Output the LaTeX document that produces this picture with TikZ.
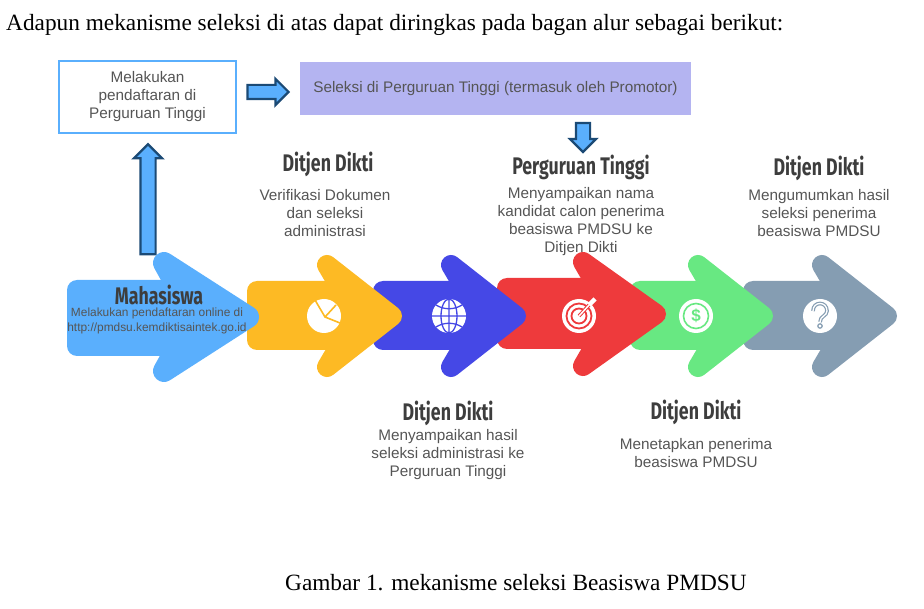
\documentclass[tikz,border=0pt]{standalone}
\usepackage{fontspec}
\setmainfont{Liberation Sans}
\newfontfamily\capfont{Liberation Serif}
\newfontfamily\headfont[FakeStretch=0.74]{Fira Sans}
\usetikzlibrary{shapes.arrows}
\definecolor{txtgray}{HTML}{555555}
\definecolor{headgray}{HTML}{3D3D3D}
\definecolor{skyblue}{HTML}{5AAFFD}
\definecolor{linkblue}{HTML}{1B4A75}
\definecolor{amber}{HTML}{FDBA24}
\definecolor{indigo}{HTML}{4548E6}
\definecolor{redflow}{HTML}{EE3A3C}
\definecolor{greenflow}{HTML}{68E882}
\definecolor{slategray}{HTML}{859DB2}
\definecolor{lilac}{HTML}{B4B4F1}
\tikzset{
  caption/.style={font=\capfont\fontsize{23.3}{26}\selectfont,text=black,inner sep=0pt,anchor=base west},
  head/.style={font=\headfont\bfseries\fontsize{24}{26}\selectfont,text=headgray,inner sep=0pt},
  desc/.style={font=\fontsize{15.3}{18}\selectfont,text=txtgray,align=center,inner sep=0pt},
  blockarrow/.style={single arrow,draw=linkblue,fill=skyblue,line width=2.2pt,inner xsep=0pt,inner ysep=#1,
    single arrow head extend=#1,single arrow head indent=0pt},
  icon/.style={fill=white,draw=none},
}
% colour, left, top, bottom, blob x, blob y, tip x, middle y, radius
\newcommand{\flowarrow}[9]{
  \fill[#1,rounded corners=10pt] (#2,#3) rectangle (#5+30,#4);
  \filldraw[#1,line width=2*#9 pt,line join=round] (#5,#6) -- (#7-#9,#8) -- (#5,2*#8-#6) -- (#5+30,#8) -- cycle;
}
\begin{document}
\begin{tikzpicture}[x=1pt,y=-1pt]
  \useasboundingbox (0,0) rectangle (924,609);
  \node[caption] (intro) at (6,31) {Adapun mekanisme seleksi di atas dapat diringkas pada bagan alur sebagai berikut:};
  \node[caption] (fig) at (285,590) {Gambar 1. mekanisme seleksi Beasiswa PMDSU};

  % boxes on top
  \node[draw=skyblue,fill=white,line width=2.5pt,minimum width=177pt,minimum height=72pt,inner sep=0pt,desc] (daftar) at (147.5,97) {Melakukan\\pendaftaran di\\Perguruan Tinggi};
  \node[fill=lilac,minimum width=391pt,minimum height=53pt,inner sep=0pt,desc] (seleksi) at (495.5,88.5) {Seleksi di Perguruan Tinggi (termasuk oleh Promotor)};
  \node[blockarrow=6.5pt,rotate=90,minimum height=110pt] (up) at (148,203) {};
  \node[blockarrow=6pt,minimum height=41pt] (right) at (264.5,92) {};
  \node[blockarrow=6pt,rotate=-90,minimum height=29pt] (down) at (583,134) {};

  % texts over the flow
  \node[head] (h1) at (328,164) {Ditjen Dikti};
  \node[desc] (t1) at (325,213) {Verifikasi Dokumen\\dan seleksi\\administrasi};
  \node[head] (h3) at (581,167) {Perguruan Tinggi};
  \node[desc] (t3) at (581,222) {Menyampaikan nama\\kandidat calon penerima\\beasiswa PMDSU ke\\Ditjen Dikti};
  \node[head] (h5) at (819,168) {Ditjen Dikti};
  \node[desc] (t5) at (819,213) {Mengumumkan hasil\\seleksi penerima\\beasiswa PMDSU};

  % flow, right to left so that each tip lies on the next one
  \flowarrow{slategray}{743}{281}{350}{822}{265}{897}{316}{10}
  \flowarrow{greenflow}{630}{281}{350}{698}{265}{773}{316}{10}
  \flowarrow{redflow}{497}{278}{349}{583}{262}{666}{314}{10}
  \flowarrow{indigo}{373}{281}{350}{451}{265}{526}{316}{10}
  \flowarrow{amber}{247}{281}{350}{327}{265}{402}{316}{10}
  \flowarrow{skyblue}{67}{280}{356}{164}{263}{259}{317}{11}

  \node[head] (h0) at (159,295) {Mahasiswa};
  \node[desc,font=\fontsize{11.9}{15}\selectfont] (t0) at (157,321) {Melakukan pendaftaran online di\\http://pmdsu.kemdiktisaintek.go.id};

  % icons
  \fill[icon] (324,316) circle (17);
  \draw[amber,line width=1.6pt] (315,300) -- (325,317) -- (340,323) (325,317) -- (336,305);

  \fill[icon] (449,316) circle (17);
  \draw[indigo,line width=1.3pt] (449,299) -- (449,333) (432,316) -- (466,316) (449,316) ellipse (8 and 17);
  \draw[indigo,line width=1.3pt] (436,305) .. controls (444,310) and (454,310) .. (462,305);
  \draw[indigo,line width=1.3pt] (436,327) .. controls (444,322) and (454,322) .. (462,327);

  \fill[icon] (579,316) circle (17);
  \draw[redflow,line width=1.8pt] (579,316) circle (12.5) (579,316) circle (7.5);
  \draw[redflow,line width=3.5pt] (579,316) -- (590,304);
  \draw[white,line width=1.5pt] (579,316) -- (590,304);
  \draw[white,line width=4.5pt] (589,305) -- (595,299);

  \fill[icon] (696,316) circle (17);
  \draw[greenflow,line width=1.6pt] (696,316) circle (12.5);
  \node[inner sep=0pt,text=greenflow,font=\bfseries\fontsize{17}{17}\selectfont] (dollar) at (696,316) {\$};

  \fill[icon] (820,316) circle (17);
  \draw[slategray,double=white,double distance=1.3pt,line width=1.2pt] (813,311) .. controls (813,301) and (827,301) .. (827,311) .. controls (827,316) and (820,316) .. (820,322);
  \draw[slategray,line width=1.2pt] (820,326) circle (2.2);

  % texts under the flow
  \node[head] (h2) at (448,413) {Ditjen Dikti};
  \node[desc] (t2) at (448,455) {Menyampaikan hasil\\seleksi administrasi ke\\Perguruan Tinggi};
  \node[head] (h4) at (696,412) {Ditjen Dikti};
  \node[desc] (t4) at (696,453) {Menetapkan penerima\\beasiswa PMDSU};
\end{tikzpicture}
\end{document}
